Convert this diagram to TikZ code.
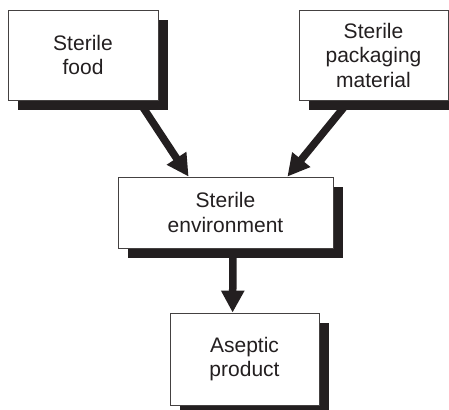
\documentclass[tikz,border=0pt]{standalone}
\usepackage{fontspec}
\setmainfont{Liberation Sans}
\usetikzlibrary{shadows,arrows.meta,calc,backgrounds}
\definecolor{ink}{HTML}{231F20}
\begin{document}
\begin{tikzpicture}[x=1pt,y=-1pt,
  box/.style={draw=ink!85,line width=0.8pt,fill=white,align=center,inner sep=0pt,
    font=\fontsize{21}{24.5}\selectfont,text=ink,
    drop shadow={shadow xshift=10pt,shadow yshift=-10pt,opacity=1,fill=ink}},
  flow/.style={line width=7.5pt,draw=ink,-{Triangle[length=22pt,width=22pt]}}]
\useasboundingbox (0,0) rectangle (449,409);
\node[box,minimum width=150pt,minimum height=90pt] (food) at (83,55) {Sterile\\food};
\node[box,minimum width=149pt,minimum height=90pt] (pack) at (373.5,55) {Sterile\\packaging\\material};
\node[box,minimum width=215pt,minimum height=71pt] (env) at (225.5,212.5) {Sterile\\environment};
\node[box,minimum width=149pt,minimum height=92pt] (prod) at (244.5,359) {Aseptic\\product};
\begin{scope}[on background layer]
\draw[flow] ($(food.south east)+(-20,0)$) -- ($(env.north west)+(71,0)$);
\draw[flow] ($(pack.south west)+(51,0)$) -- ($(env.north east)+(-46,0)$);
\draw[flow] ($(env.south)+(7.5,0)$) -- ($(prod.north west)+(63,0)$);
\end{scope}
\end{tikzpicture}
\end{document}
